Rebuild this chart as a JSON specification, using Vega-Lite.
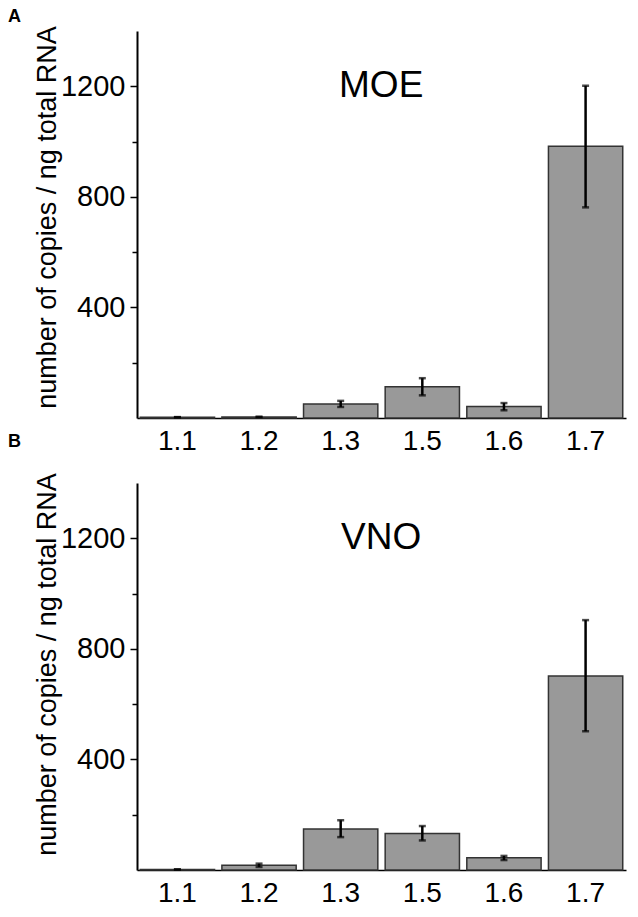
{
  "$schema": "https://vega.github.io/schema/vega-lite/v6.json",
  "background": "white",
  "padding": {"left": 8, "top": 7, "right": 5, "bottom": 5},
  "config": {"view": {"stroke": null}, "font": "Liberation Sans"},
  "datasets": {
    "bars": [
      {"panel": "A", "gene": "1.1", "mean": 3, "lo": 3, "hi": 3},
      {"panel": "A", "gene": "1.2", "mean": 4, "lo": 4, "hi": 4},
      {"panel": "A", "gene": "1.3", "mean": 51, "lo": 40, "hi": 62},
      {"panel": "A", "gene": "1.5", "mean": 113, "lo": 82, "hi": 144},
      {"panel": "A", "gene": "1.6", "mean": 42, "lo": 28, "hi": 54},
      {"panel": "A", "gene": "1.7", "mean": 983, "lo": 762, "hi": 1202},
      {"panel": "B", "gene": "1.1", "mean": 2, "lo": 2, "hi": 2},
      {"panel": "B", "gene": "1.2", "mean": 17, "lo": 11, "hi": 23},
      {"panel": "B", "gene": "1.3", "mean": 148, "lo": 119, "hi": 180},
      {"panel": "B", "gene": "1.5", "mean": 132, "lo": 107, "hi": 159},
      {"panel": "B", "gene": "1.6", "mean": 44, "lo": 36, "hi": 51},
      {"panel": "B", "gene": "1.7", "mean": 702, "lo": 502, "hi": 904}
    ],
    "labels": [
      {"panel": "A", "text": "MOE"},
      {"panel": "B", "text": "VNO"}
    ]
  },
  "spacing": 65,
  "bounds": "flush",
  "vconcat": [
    {
      "width": 489,
      "height": 387,
      "title": {"text": "A", "anchor": "start", "frame": "group", "fontSize": 18, "fontWeight": "bold", "color": "black", "dx": -129, "offset": 0},
      "data": {"name": "bars"},
      "transform": [{"filter": "datum.panel === 'A'"}],
      "encoding": {
        "x": {
          "field": "gene", "type": "nominal", "sort": null,
          "scale": {"domain": ["1.1", "1.2", "1.3", "1.5", "1.6", "1.7"], "paddingInner": 0.09, "paddingOuter": 0.04},
          "axis": {"title": null, "ticks": false, "tickSize": 0, "labelAngle": 0, "labelFontSize": 28, "labelColor": "black", "labelPadding": 9, "domainColor": "black", "domainWidth": 1.5}
        }
      },
      "layer": [
        {
          "mark": {"type": "bar", "fill": "#999999", "stroke": "#333333", "strokeWidth": 1.5},
          "encoding": {
            "y": {
              "field": "mean", "type": "quantitative",
              "scale": {"domain": [0, 1400]},
              "axis": {
                "title": "number of copies / ng total RNA",
                "values": [200, 400, 600, 800, 1000, 1200],
                "labelExpr": "datum.value % 400 === 0 ? '' + datum.value : ''",
                "grid": false,
                "domainColor": "black", "domainWidth": 2,
                "tickColor": "black", "tickWidth": 1.5,
                "tickSize": {"condition": {"test": "datum.value % 400 === 0", "value": 7}, "value": 5},
                "labelFontSize": 29, "labelColor": "black", "labelPadding": 5,
                "titleFontSize": 27, "titleFontWeight": "normal", "titleColor": "black",
                "titleX": -82, "titleY": 186, "titleBaseline": "alphabetic", "titleAlign": "center", "titleAngle": -90
              }
            }
          }
        },
        {
          "mark": {"type": "rule", "color": "black", "strokeWidth": 2.5},
          "encoding": {"y": {"field": "lo", "type": "quantitative"}, "y2": {"field": "hi"}}
        },
        {
          "mark": {"type": "tick", "color": "black", "size": 7, "thickness": 2.5},
          "encoding": {"y": {"field": "lo", "type": "quantitative"}}
        },
        {
          "mark": {"type": "tick", "color": "black", "size": 7, "thickness": 2.5},
          "encoding": {"y": {"field": "hi", "type": "quantitative"}}
        },
        {
          "data": {"name": "labels"},
          "transform": [{"filter": "datum.panel === 'A'"}],
          "mark": {"type": "text", "fontSize": 37, "baseline": "middle", "align": "center", "color": "black", "dx": -4},
          "encoding": {
            "x": {"datum": "1.5", "bandPosition": 0},
            "y": {"datum": 1200},
            "text": {"field": "text"}
          }
        }
      ]
    },
    {
      "width": 489,
      "height": 387,
      "title": {"text": "B", "anchor": "start", "frame": "group", "fontSize": 18, "fontWeight": "bold", "color": "black", "dx": -129, "offset": 0, "dy": -22},
      "data": {"name": "bars"},
      "transform": [{"filter": "datum.panel === 'B'"}],
      "encoding": {
        "x": {
          "field": "gene", "type": "nominal", "sort": null,
          "scale": {"domain": ["1.1", "1.2", "1.3", "1.5", "1.6", "1.7"], "paddingInner": 0.09, "paddingOuter": 0.04},
          "axis": {"title": null, "ticks": false, "tickSize": 0, "labelAngle": 0, "labelFontSize": 28, "labelColor": "black", "labelPadding": 9, "domainColor": "black", "domainWidth": 1.5}
        }
      },
      "layer": [
        {
          "mark": {"type": "bar", "fill": "#999999", "stroke": "#333333", "strokeWidth": 1.5},
          "encoding": {
            "y": {
              "field": "mean", "type": "quantitative",
              "scale": {"domain": [0, 1400]},
              "axis": {
                "title": "number of copies / ng total RNA",
                "values": [200, 400, 600, 800, 1000, 1200],
                "labelExpr": "datum.value % 400 === 0 ? '' + datum.value : ''",
                "grid": false,
                "domainColor": "black", "domainWidth": 2,
                "tickColor": "black", "tickWidth": 1.5,
                "tickSize": {"condition": {"test": "datum.value % 400 === 0", "value": 7}, "value": 5},
                "labelFontSize": 29, "labelColor": "black", "labelPadding": 5,
                "titleFontSize": 27, "titleFontWeight": "normal", "titleColor": "black",
                "titleX": -82, "titleY": 181, "titleBaseline": "alphabetic", "titleAlign": "center", "titleAngle": -90
              }
            }
          }
        },
        {
          "mark": {"type": "rule", "color": "black", "strokeWidth": 2.5},
          "encoding": {"y": {"field": "lo", "type": "quantitative"}, "y2": {"field": "hi"}}
        },
        {
          "mark": {"type": "tick", "color": "black", "size": 7, "thickness": 2.5},
          "encoding": {"y": {"field": "lo", "type": "quantitative"}}
        },
        {
          "mark": {"type": "tick", "color": "black", "size": 7, "thickness": 2.5},
          "encoding": {"y": {"field": "hi", "type": "quantitative"}}
        },
        {
          "data": {"name": "labels"},
          "transform": [{"filter": "datum.panel === 'B'"}],
          "mark": {"type": "text", "fontSize": 37, "baseline": "middle", "align": "center", "color": "black", "dx": -4},
          "encoding": {
            "x": {"datum": "1.5", "bandPosition": 0},
            "y": {"datum": 1200},
            "text": {"field": "text"}
          }
        }
      ]
    }
  ]
}
